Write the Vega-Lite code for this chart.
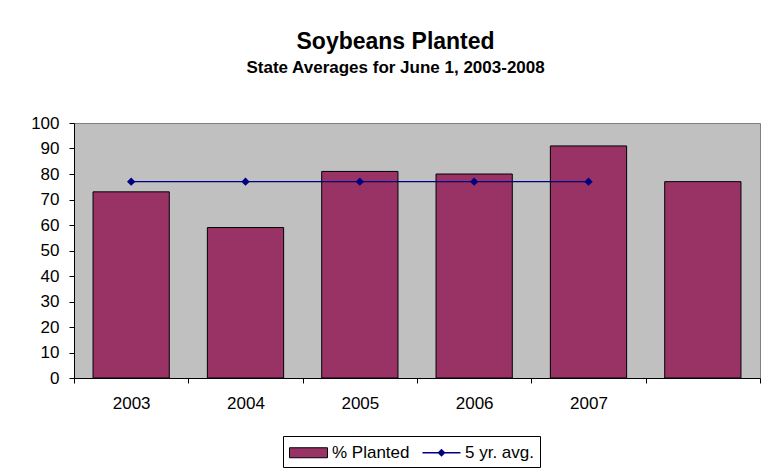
{
  "$schema": "https://vega.github.io/schema/vega-lite/v6.json",
  "width": 686,
  "height": 255,
  "padding": {"left": 30, "top": 31, "right": 16, "bottom": 0},
  "background": "white",
  "title": {
    "text": "Soybeans Planted",
    "subtitle": "State Averages for June 1, 2003-2008",
    "font": "Liberation Sans",
    "fontSize": 23,
    "fontWeight": "bold",
    "color": "black",
    "subtitleFont": "Liberation Sans",
    "subtitleFontSize": 17,
    "subtitleFontWeight": "bold",
    "subtitleColor": "black",
    "subtitlePadding": 6,
    "anchor": "middle",
    "frame": "bounds",
    "offset": 38
  },
  "datasets": {
    "bars": [
      {"year": "2003", "v": 73},
      {"year": "2004", "v": 59},
      {"year": "2005", "v": 81},
      {"year": "2006", "v": 80},
      {"year": "2007", "v": 91},
      {"year": "2008", "v": 77}
    ],
    "avg": [
      {"year": "2003", "v": 77},
      {"year": "2004", "v": 77},
      {"year": "2005", "v": 77},
      {"year": "2006", "v": 77},
      {"year": "2007", "v": 77}
    ],
    "legend": [
      {"series": "% Planted"},
      {"series": "5 yr. avg."}
    ]
  },
  "encoding": {
    "x": {
      "field": "year",
      "type": "ordinal",
      "scale": {"domain": ["2003", "2004", "2005", "2006", "2007", "2008"], "paddingInner": 0, "paddingOuter": 0},
      "axis": {
        "title": null,
        "labelAngle": 0,
        "tickBand": "extent",
        "tickSize": 5,
        "labelPadding": 12,
        "labelExpr": "datum.value == '2008' ? '' : datum.value"
      }
    },
    "y": {
      "field": "v",
      "type": "quantitative",
      "scale": {"domain": [0, 100], "nice": false},
      "axis": {
        "title": null,
        "values": [0, 10, 20, 30, 40, 50, 60, 70, 80, 90, 100],
        "labelOverlap": false,
        "grid": false,
        "tickSize": 5,
        "labelPadding": 10
      }
    }
  },
  "layer": [
    {
      "data": {"name": "bars"},
      "mark": {"type": "bar", "fill": "#993366", "stroke": "black", "strokeWidth": 1, "width": {"band": 0.667}}
    },
    {
      "data": {"name": "avg"},
      "mark": {"type": "line", "color": "#000080", "strokeWidth": 1.3}
    },
    {
      "data": {"name": "avg"},
      "mark": {"type": "point", "shape": "diamond", "filled": true, "color": "#000080", "size": 70, "opacity": 1}
    },
    {
      "data": {"name": "legend"},
      "mark": {"type": "point", "filled": true, "opacity": 0},
      "encoding": {
        "color": {
          "field": "series",
          "type": "nominal",
          "scale": {"domain": ["% Planted", "5 yr. avg."], "range": ["#993366", "#000080"]},
          "legend": {
            "title": null,
            "orient": "none",
            "legendX": 209,
            "legendY": 313,
            "direction": "horizontal",
            "padding": 6,
            "strokeColor": "black",
            "fillColor": "white",
            "symbolSize": 400,
            "symbolOffset": 9,
            "labelFont": "Liberation Sans",
            "labelFontSize": 17,
            "labelColor": "black",
            "labelOffset": 13,
            "columnPadding": 10,
            "encode": {
              "symbols": {
                "update": {
                  "opacity": {"value": 1},
                  "stroke": {"signal": "datum.value === '% Planted' ? 'black' : 'transparent'"},
                  "strokeWidth": {"value": 1}
                }
              }
            }
          }
        },
        "shape": {
          "field": "series",
          "type": "nominal",
          "scale": {
            "domain": ["% Planted", "5 yr. avg."],
            "range": [
              "M-1.9,-0.5L1.9,-0.5L1.9,0.5L-1.9,0.5Z",
              "M-1.9,-0.065L1.9,-0.065L1.9,0.065L-1.9,0.065Z M0,-0.4L0.4,0L0,0.4L-0.4,0Z"
            ]
          },
          "legend": null
        }
      }
    }
  ],
  "config": {
    "view": {"fill": "#C0C0C0", "stroke": "#808080", "strokeWidth": 1},
    "axis": {
      "domainColor": "black",
      "tickColor": "black",
      "labelColor": "black",
      "labelFont": "Liberation Sans",
      "labelFontSize": 17,
      "domainWidth": 1,
      "tickWidth": 1
    }
  }
}
